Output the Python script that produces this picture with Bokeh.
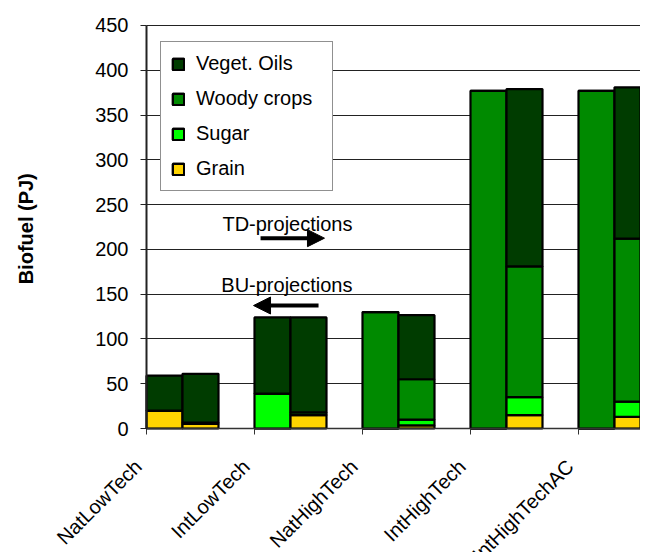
import math
from bokeh.plotting import figure
from bokeh.models import (ColumnDataSource, Range1d, FixedTicker, Legend, LegendItem,
                          Arrow, NormalHead, Label)
from bokeh.embed import file_html
from bokeh.resources import INLINE

categories = ["NatLowTech", "IntLowTech", "NatHighTech", "IntHighTech", "IntHighTechAC"]
series = ["Grain", "Sugar", "Woody crops", "Veget. Oils"]
colors = ["#FFD400", "#00FF00", "#008A00", "#003C00"]

# BU-projections (left bar of each pair)
grain_bu = [20, 0, 0, 0, 0]
sugar_bu = [0, 39, 0, 0, 0]
woody_bu = [0, 0, 130, 377, 377]
oils_bu = [39, 85, 0, 0, 0]

# TD-projections (right bar of each pair)
grain_td = [5, 15, 3.5, 15, 13]
sugar_td = [0, 3, 6.5, 20, 17]
woody_td = [1.5, 0, 45, 146, 182]
oils_td = [54.5, 106, 71.5, 198, 169]

y_ticks = [0, 50, 100, 150, 200, 250, 300, 350, 400, 450]

FONT = "Liberation Sans"
FS = "20px"

# The frame covers the whole canvas; axes are pinned at x=0 and y=0.
# 108 px per category, 0.8956 px per PJ, origin at (146, 428) px.
X0, X1 = -146 / 108, (640 - 146) / 108
Y0, Y1 = -(552 - 428) / 0.8956, 428 / 0.8956
p = figure(width=640, height=552, x_range=Range1d(X0, X1), y_range=Range1d(Y0, Y1),
           output_backend="svg", toolbar_location=None,
           min_border_left=0, min_border_right=0, min_border_top=0, min_border_bottom=0)
p.outline_line_color = None
p.background_fill_color = "white"

keys = ["grain", "sugar", "woody", "oils"]
src_bu = ColumnDataSource(dict(x=[i + 1/6 for i in range(len(categories))],
                               grain=grain_bu, sugar=sugar_bu, woody=woody_bu, oils=oils_bu))
src_td = ColumnDataSource(dict(x=[i + 1/2 for i in range(len(categories))],
                               grain=grain_td, sugar=sugar_td, woody=woody_td, oils=oils_td))

r_bu = p.vbar_stack(keys, x="x", width=1/3, color=colors, source=src_bu,
                    line_color="black", line_width=2)
r_td = p.vbar_stack(keys, x="x", width=1/3, color=colors, source=src_td,
                    line_color="black", line_width=2)
for r in r_bu + r_td:
    r.glyph.line_color = "black"
    r.glyph.line_width = 2.2

items = []
for idx in [3, 2, 1, 0]:
    items.append(LegendItem(label=series[idx], renderers=[r_bu[idx], r_td[idx]]))
legend = Legend(items=items, location=(160, 361), padding=10, spacing=12, margin=0,
                glyph_width=14, glyph_height=14, label_height=23, label_standoff=11,
                label_width=126, label_text_font=FONT, label_text_font_size=FS,
                label_text_color="black",
                border_line_color="#222222", border_line_width=1.2,
                background_fill_color="white", background_fill_alpha=1)
p.add_layout(legend, "center")

# y axis pinned at x = 0
p.yaxis.fixed_location = 0
p.yaxis.ticker = FixedTicker(ticks=y_ticks)
p.yaxis.bounds = (0, 450)
p.yaxis.major_label_text_font = FONT
p.yaxis.major_label_text_font_size = FS
p.yaxis.major_label_text_color = "black"
p.yaxis.major_tick_in = 0
p.yaxis.major_tick_out = 6
p.yaxis.minor_tick_line_color = None
p.yaxis.major_label_standoff = 12
p.yaxis.axis_line_color = "#222222"
p.yaxis.axis_line_width = 2
p.yaxis.major_tick_line_color = "#222222"

p.add_layout(Label(x=0, y=223, x_offset=-121, text="Biofuel (PJ)", angle=math.pi / 2,
                   text_align="center", text_baseline="middle", text_font=FONT,
                   text_font_size=FS, text_font_style="bold", text_color="black"))

# x axis pinned at y = 0; tick marks at category boundaries
p.xaxis.fixed_location = 0
p.xaxis.bounds = (0, X1)
p.xaxis.ticker = FixedTicker(ticks=[], minor_ticks=list(range(len(categories))))
p.xaxis.minor_tick_in = 0
p.xaxis.minor_tick_out = 6
p.xaxis.minor_tick_line_color = "#333333"
p.xaxis.minor_tick_line_width = 1
p.xaxis.axis_line_color = "#333333"
p.xaxis.axis_line_width = 1.5

# rotated category labels, ending just left of each boundary tick
for i, c in enumerate(categories):
    p.add_layout(Label(x=i, y=0, x_offset=-8.4, y_offset=-34.6, text=c, angle=math.pi / 4,
                       text_align="right", text_baseline="alphabetic", text_font=FONT,
                       text_font_size=FS, text_color="black"))

p.xgrid.visible = False
p.ygrid.grid_line_color = "#222222"
p.ygrid.grid_line_width = 1
p.ygrid.cross_bounds = (0, X1)

# annotations
p.add_layout(Label(x=1.907, y=227.8, text="TD-projections", text_align="right",
                   text_baseline="alphabetic", text_font=FONT, text_font_size=FS,
                   text_color="black"))
p.add_layout(Label(x=1.907, y=159.7, text="BU-projections", text_align="right",
                   text_baseline="alphabetic", text_font=FONT, text_font_size=FS,
                   text_color="black"))
p.add_layout(Arrow(x_start=1.056, y_start=212.5, x_end=1.648, y_end=212.5,
                   line_width=4, line_color="black",
                   end=NormalHead(size=17, fill_color="black", line_color="black")))
p.add_layout(Arrow(x_start=1.593, y_start=137.3, x_end=0.991, y_end=137.3,
                   line_width=4, line_color="black",
                   end=NormalHead(size=17, fill_color="black", line_color="black")))

open("out.html", "w").write(file_html(p, INLINE))
